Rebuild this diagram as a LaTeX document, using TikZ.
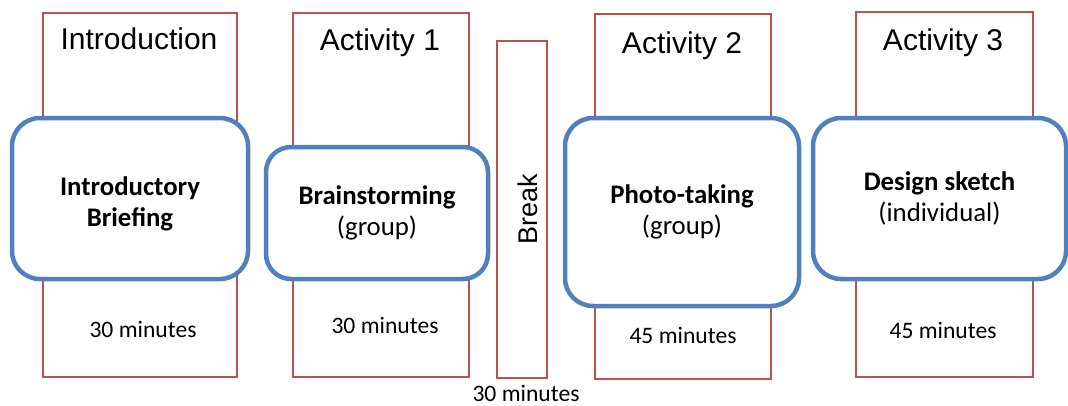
\documentclass[tikz,border=0pt]{standalone}
\usepackage{fontspec}
\setmainfont{Carlito}
\newfontfamily\arialf{Liberation Sans}
\definecolor{redline}{HTML}{C0504D}
\definecolor{blueline}{HTML}{4F81BD}
\begin{document}
\begin{tikzpicture}[x=1pt,y=-1pt,
  slot/.style={draw=redline,line width=2.8pt,inner sep=0pt},
  task/.style={draw=blueline,fill=white,line width=4.5pt,rounded corners=28pt,
    align=center,inner sep=0pt,font=\fontsize{26.8}{31.5}\selectfont},
  phase/.style={anchor=base,inner sep=0pt,font=\arialf\fontsize{30}{36}\selectfont},
  dur/.style={anchor=base,inner sep=0pt,font=\fontsize{23.6}{28}\selectfont}]
\useasboundingbox (0,0) rectangle (1068,405);
% red columns
\node[slot,minimum width=194pt,minimum height=364pt] (r1) at (140,195) {};
\node[slot,minimum width=176pt,minimum height=364pt] (r2) at (381,195) {};
\node[slot,minimum width=50pt,minimum height=337pt] (rb) at (522,209.5) {};
\node[slot,minimum width=176pt,minimum height=365pt] (r3) at (683,196.5) {};
\node[slot,minimum width=177pt,minimum height=365pt] (r4) at (944.5,194.5) {};
% titles
\node[phase] (t1) at (139,49) {Introduction};
\node[phase] (t2) at (380,50) {Activity 1};
\node[phase] (t3) at (682,53) {Activity 2};
\node[phase] (t4) at (943,50) {Activity 3};
% blue boxes
\node[task,minimum width=236pt,minimum height=161pt] (b1) at (130,198.5) {\\[-2pt]\textbf{Introductory}\\\textbf{Briefing}};
\node[task,minimum width=222pt,minimum height=132pt,rounded corners=25pt] (b2) at (377,213) {\textbf{Brainstorming}\\(group)};
\node[task,minimum width=234pt,minimum height=188pt] (b3) at (682,212) {\textbf{Photo-taking}\\(group)};
\node[task,minimum width=253pt,minimum height=161pt] (b4) at (939.5,198.5) {\textbf{Design sketch}\\(individual)};
% break
\node[rotate=90,inner sep=0pt,font=\arialf\fontsize{27}{32}\selectfont] (brk) at (528,209) {Break};
% durations
\node[dur] (d1) at (143,337) {30 minutes};
\node[dur] (d2) at (385,333) {30 minutes};
\node[dur] (db) at (526,401) {30 minutes};
\node[dur] (d3) at (683,343) {45 minutes};
\node[dur] (d4) at (943,338) {45 minutes};
\end{tikzpicture}
\end{document}
